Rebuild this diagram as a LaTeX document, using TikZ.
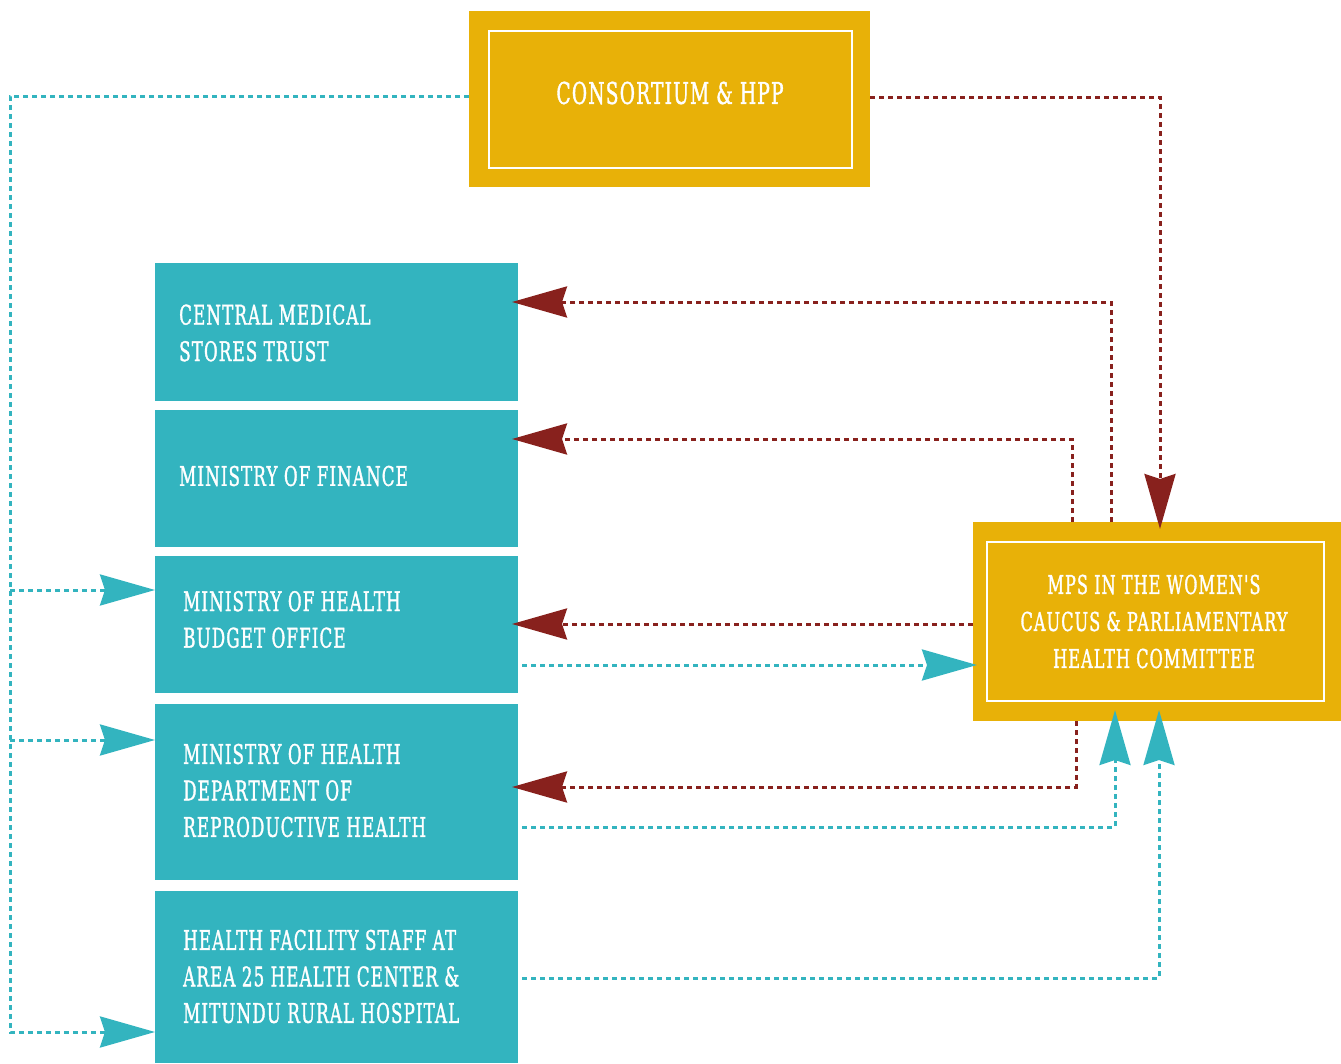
\documentclass[tikz,border=0pt]{standalone}
\usepackage{fontspec}
\usetikzlibrary{arrows.meta}
\newfontfamily\labfont[FakeStretch=0.62,LetterSpace=4,FakeBold=1.2]{DejaVu Serif}
\definecolor{gold}{HTML}{E8B108}
\definecolor{tealc}{HTML}{33B4BF}
\definecolor{maroon}{HTML}{88211D}
\begin{document}
\begin{tikzpicture}[x=1pt,y=-1pt,
  tealbox/.style={fill=tealc, draw=none, minimum width=363pt, anchor=north west, inner sep=0pt, outer sep=0pt},
  goldbox/.style={fill=gold, draw=none, anchor=north west, inner sep=0pt, outer sep=0pt},
  innerbox/.style={draw=white, line width=2.5pt, anchor=north west, inner sep=0pt, outer sep=0pt},
  txt/.style={text=white, font=\labfont\fontsize{27}{36.5}\selectfont, align=left, inner sep=0pt, anchor=west},
  ctxt/.style={text=white, font=\labfont\fontsize{26}{37}\selectfont, align=center, inner sep=0pt},
  tdash/.style={draw=tealc, line width=3pt, dash pattern=on 5pt off 4pt},
  rdash/.style={draw=maroon, line width=3pt, dash pattern=on 5pt off 4pt},
  bigtip/.style={-{Stealth[length=55pt,width=31pt,inset=5pt]}}
]
\useasboundingbox (0,0) rectangle (1341,1063);
% boxes
\node[goldbox, minimum width=401pt, minimum height=176pt] (cons) at (469,11) {};
\node[innerbox, minimum width=363pt, minimum height=137pt] (consin) at (489,31) {};
\node[ctxt, font=\labfont\fontsize{30}{36}\selectfont] (constext) at (670,93) {CONSORTIUM \& HPP};

\node[goldbox, minimum width=368pt, minimum height=199pt] (mps) at (973,522) {};
\node[innerbox, minimum width=337pt, minimum height=159pt] (mpsin) at (987,542) {};
\node[ctxt] (mpstext) at (1154,621.5) {MPS IN THE WOMEN'S\\CAUCUS \& PARLIAMENTARY\\HEALTH COMMITTEE};

\node[tealbox, minimum height=138pt] (cmst) at (155,263) {};
\node[tealbox, minimum height=137pt] (mof) at (155,410) {};
\node[tealbox, minimum height=137pt] (mohb) at (155,556) {};
\node[tealbox, minimum height=176pt] (drh) at (155,704) {};
\node[tealbox, minimum height=172pt] (hf) at (155,891) {};

\node[txt] (cmsttext) at (179,333) {CENTRAL MEDICAL\\STORES TRUST};
\node[txt] (moftext) at (179,476) {MINISTRY OF FINANCE};
\node[txt] (mohbtext) at (183,619.5) {MINISTRY OF HEALTH\\BUDGET OFFICE};
\node[txt] (drhtext) at (183,790.5) {MINISTRY OF HEALTH\\DEPARTMENT OF\\REPRODUCTIVE HEALTH};
\node[txt] (hftext) at (183,976.5) {HEALTH FACILITY STAFF AT\\AREA 25 HEALTH CENTER \&\\MITUNDU RURAL HOSPITAL};

% helper coordinates
\coordinate (t96) at (0,96);
\coordinate (b1) at (10,590);
\coordinate (b2) at (10,740);
\coordinate (b3) at (10,1032);
\coordinate (y97) at (0,97);
\coordinate (y302) at (0,302);
\coordinate (y439) at (0,439);
\coordinate (y624) at (0,624);
\coordinate (y665) at (0,665);
\coordinate (y787) at (0,787);
\coordinate (y827) at (0,827);
\coordinate (y978) at (0,978);
\coordinate (x1160) at (1160,0);
\coordinate (x1111) at (1111,0);
\coordinate (x1072) at (1072,0);
\coordinate (x1076) at (1076,0);
\coordinate (x1115) at (1115,0);
\coordinate (x1159) at (1159,0);

% teal connectors from consortium
\draw[tdash, bigtip] (t96 -| cons.west) -| (b3) -- (b3 -| hf.west);
\draw[tdash, bigtip] (b1) -- (b1 -| mohb.west);
\draw[tdash, bigtip] (b2) -- (b2 -| drh.west);

% maroon connectors
\draw[rdash, bigtip, shorten >=-7pt] (y97 -| cons.east) -| (x1160 |- mps.north);
\draw[rdash, bigtip, shorten >=-6pt] (x1111 |- mps.north) |- (y302 -| cmst.east);
\draw[rdash, bigtip, shorten >=-6pt] (x1072 |- mps.north) |- (y439 -| mof.east);
\draw[rdash, bigtip, shorten >=-6pt] (y624 -| mps.west) -- (y624 -| mohb.east);
\draw[rdash, bigtip, shorten >=-6pt] (x1076 |- mps.south) |- (y787 -| drh.east);

% teal connectors to MPs
\draw[tdash, bigtip, shorten >=-4pt, shorten <=4pt] (y665 -| mohb.east) -- (y665 -| mps.west);
\draw[tdash, bigtip, shorten >=-11pt, shorten <=4pt] (y827 -| drh.east) -| (x1115 |- mps.south);
\draw[tdash, bigtip, shorten >=-11pt, shorten <=4pt] (y978 -| hf.east) -| (x1159 |- mps.south);
\end{tikzpicture}
\end{document}
